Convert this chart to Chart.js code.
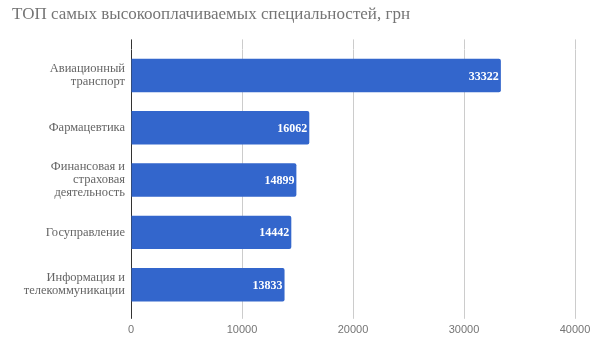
<!DOCTYPE html>
<html lang="ru">
<head>
    <meta charset="UTF-8">
    <title>ТОП специальностей</title>
    <script src="https://cdn.jsdelivr.net/npm/chart.js"></script>
    <style>
        html, body { margin: 0; padding: 0; background: #fff; }
        .container { width: 606px; height: 357px; }
    </style>
</head>
<body>
    <div class="container">
        <canvas id="myChart" width="606" height="357"></canvas>
    </div>

    <script>
        const categories = [
            ['Авиационный', 'транспорт'],
            ['Фармацевтика'],
            ['Финансовая и', 'страховая', 'деятельность'],
            ['Госуправление'],
            ['Информация и', 'телекоммуникации']
        ];
        const salaries = [33322, 16062, 14899, 14442, 13833];
        const tickValues = [0, 10000, 20000, 30000, 40000];

        const gridColor = ctx => (ctx.tick && ctx.tick.value === 0) ? '#333333' : '#cccccc';

        // white numbers at the end of each bar
        const barValues = {
            id: 'barValues',
            afterDatasetsDraw(chart) {
                const c = chart.ctx;
                const meta = chart.getDatasetMeta(0);
                c.save();
                c.fillStyle = '#ffffff';
                c.font = 'bold 12px "Liberation Serif", serif';
                c.textAlign = 'right';
                c.textBaseline = 'middle';
                meta.data.forEach((bar, i) => {
                    c.fillText(String(salaries[i]), bar.x - 2, bar.y + 1);
                });
                c.restore();
            }
        };

        const ctx = document.getElementById('myChart').getContext('2d');
        new Chart(ctx, {
            type: 'bar',
            data: {
                labels: categories,
                datasets: [{
                    data: salaries,
                    backgroundColor: '#3366cc',
                    borderRadius: 2,
                    borderSkipped: 'start',
                    barPercentage: 0.64,
                    categoryPercentage: 1
                }]
            },
            plugins: [barValues],
            options: {
                indexAxis: 'y',
                responsive: false,
                animation: false,
                layout: { padding: { left: 12, right: 31, top: 0, bottom: 15 } },
                plugins: {
                    legend: { display: false },
                    tooltip: { enabled: false },
                    title: {
                        display: true,
                        text: 'ТОП самых высокооплачиваемых специальностей, грн',
                        align: 'start',
                        color: '#757575',
                        font: { family: '"Liberation Serif", serif', size: 17, weight: 'normal' },
                        padding: { top: 4, bottom: 15 }
                    }
                },
                scales: {
                    x: {
                        min: 0,
                        max: 40000,
                        afterBuildTicks: scale => { scale.ticks = tickValues.map(v => ({ value: v })); },
                        grid: { color: gridColor, tickLength: 8 },
                        border: { display: false },
                        ticks: {
                            padding: 5,
                            color: '#757575',
                            font: { family: '"Liberation Sans", Arial, sans-serif', size: 11 },
                            maxRotation: 0,
                            callback: v => String(v)
                        }
                    },
                    x2: {
                        axis: 'x',
                        position: 'top',
                        min: 0,
                        max: 40000,
                        afterBuildTicks: scale => { scale.ticks = tickValues.map(v => ({ value: v })); },
                        grid: { color: gridColor, tickLength: 10, drawOnChartArea: false },
                        border: { display: false },
                        ticks: { display: false }
                    },
                    y: {
                        grid: { display: false, drawTicks: false },
                        border: { display: false },
                        afterFit: scale => { scale.width = 119; },
                        ticks: {
                            padding: 6,
                            color: '#666666',
                            font: { family: '"Liberation Serif", serif', size: 12.5, lineHeight: 1.04 }
                        }
                    }
                }
            }
        });
    </script>
</body>
</html>
